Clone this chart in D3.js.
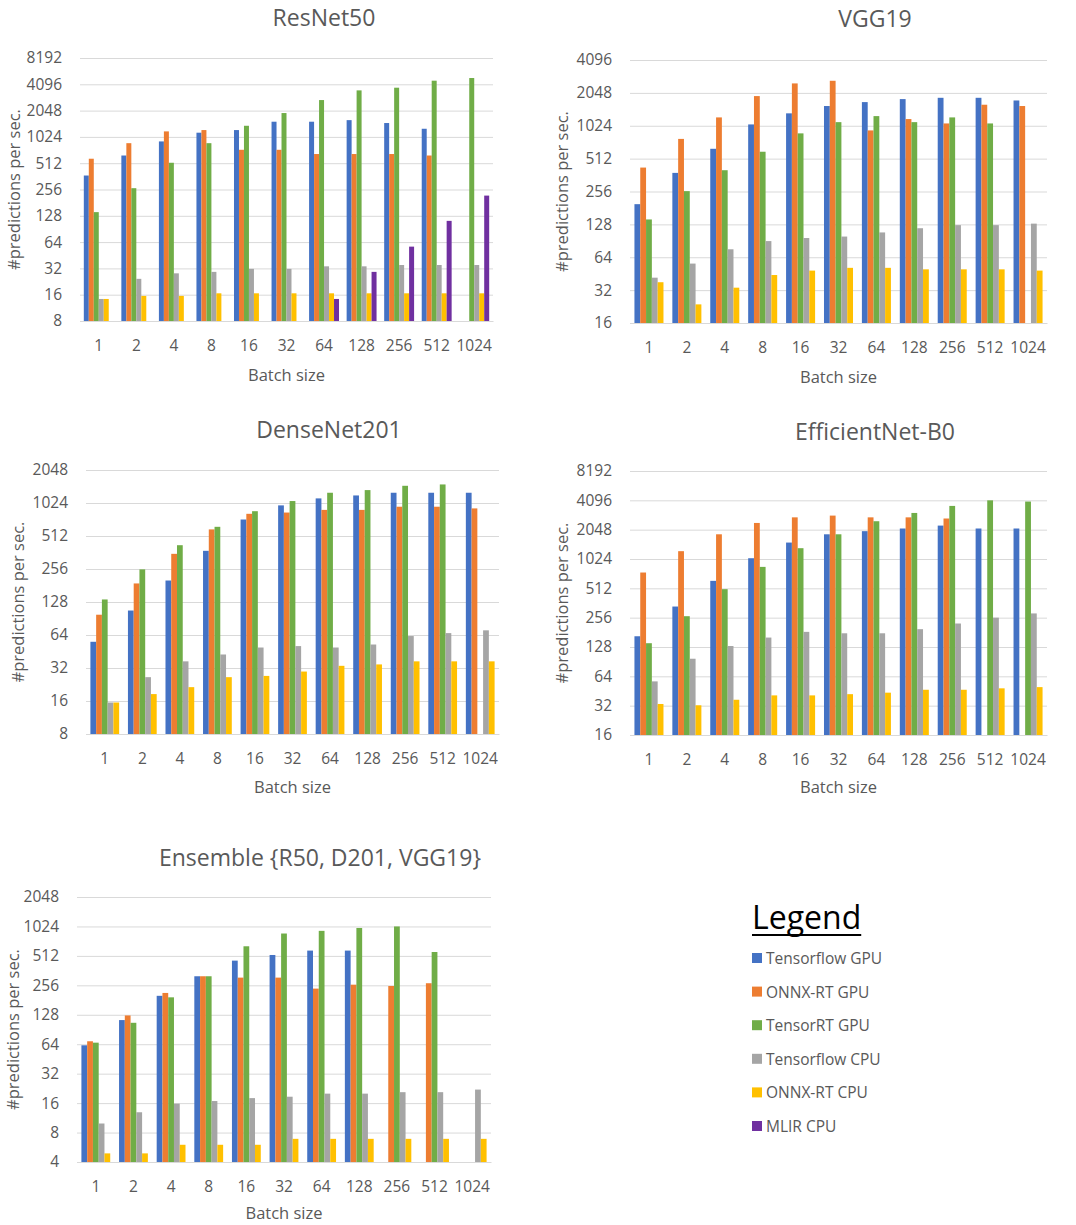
<!DOCTYPE html>
<meta charset='utf-8'>
<style>
	body { margin: 0; background: #fff; }
	text { font-family: 'Open Sans', 'Noto Sans', sans-serif; fill: #595959; }
</style>
<body>
<div id='container'></div>
<script src='https://d3js.org/d3.v7.min.js'></script>
<script>
	// batch sizes on every x axis
	const batchSizes = ['1', '2', '4', '8', '16', '32', '64', '128', '256', '512', '1024'];

	const seriesNames = ['Tensorflow GPU', 'ONNX-RT GPU', 'TensorRT GPU', 'Tensorflow CPU', 'ONNX-RT CPU', 'MLIR CPU'];
	const seriesColors = ['#4472C4', '#ED7D31', '#70AD47', '#A5A5A5', '#FFC000', '#7030A0'];

	// predictions per second, one row per series (null = not measured)
	const resnet50 = [
		[370, 627, 909, 1144, 1226, 1528, 1528, 1593, 1476, 1269, null],
		[576, 868, 1184, 1226, 729, 729, 652, 652, 652, 627, null],
		[141, 265, 518, 868, 1373, 1920, 2704, 3490, 3745, 4505, 4833],
		[14.3, 24.3, 28.1, 29.2, 31.6, 31.6, 33.8, 33.8, 35, 35, 35],
		[14.3, 15.5, 15.5, 16.6, 16.6, 16.6, 16.6, 16.6, 16.6, 16.6, 16.6],
		[null, null, null, null, null, null, 14.3, 29.2, 56.8, 112, 218],
	];
	const vgg19 = [
		[196, 379, 630, 1053, 1330, 1552, 1686, 1796, 1846, 1846, 1745],
		[424, 776, 1221, 1914, 2500, 2643, 928, 1179, 1075, 1595, 1552],
		[142, 258, 401, 592, 872, 1105, 1255, 1105, 1221, 1075, null],
		[41.6, 56, 75.7, 90, 96, 99, 108, 118, 126, 126, 130],
		[37.8, 23.7, 33.7, 44, 48.3, 51.2, 51.2, 49.6, 49.6, 49.6, 48.3],
	];
	const densenet201 = [
		[55.5, 107, 201, 375, 724, 974, 1128, 1200, 1270, 1270, 1270],
		[98, 189, 352, 588, 816, 838, 886, 886, 947, 947, 914],
		[135, 254, 422, 621, 862, 1067, 1270, 1343, 1470, 1512, null],
		[15.5, 26.4, 36.8, 42.5, 49.2, 50.7, 49.2, 52.4, 62.6, 66.6, 70.6],
		[15.5, 18.5, 21.4, 26.4, 27.1, 29.7, 33.5, 34.5, 36.8, 36.8, 36.8],
	];
	const efficientnetB0 = [
		[165, 333, 611, 1043, 1510, 1836, 1977, 2105, 2255, 2105, 2105],
		[744, 1232, 1836, 2400, 2740, 2856, 2740, 2740, 2666, null, null],
		[140, 265, 502, 850, 1322, 1836, 2500, 3040, 3590, 4096, 3980],
		[56.8, 97, 131, 160, 183, 177, 177, 195, 223, 256, 283],
		[33.3, 32.3, 36.8, 40.8, 40.8, 42, 43.5, 46.6, 46.6, 48.2, 49.6],
	];
	const ensemble = [
		[62.4, 113, 200, 317, 458, 523, 580, 580, null, null, null],
		[68.6, 126, 214, 317, 307, 307, 237, 260, 252, 269, null],
		[66.4, 106, 193, 317, 642, 867, 923, 988, 1024, 561, null],
		[9.9, 12.9, 15.8, 16.8, 18, 18.6, 20, 20, 20.7, 20.7, 22],
		[4.9, 4.9, 6.0, 6.0, 6.0, 6.9, 6.9, 6.9, 6.9, 6.9, 6.9],
	];

	// y tick labels
	const ticksResnet = [8, 16, 32, 64, 128, 256, 512, 1024, 2048, 4096, 8192];
	const ticksVgg = [16, 32, 64, 128, 256, 512, 1024, 2048, 4096];
	const ticksDensenet = [8, 16, 32, 64, 128, 256, 512, 1024, 2048];
	const ticksEfficientnet = [16, 32, 64, 128, 256, 512, 1024, 2048, 4096, 8192];
	const ticksEnsemble = [4, 8, 16, 32, 64, 128, 256, 512, 1024, 2048];

	const svg = d3.select('#container')
		.append('svg')
		.attr('width', 1076)
		.attr('height', 1225);

	const drawChart = ( cfg ) => {
		const width = cfg.x1 - cfg.x0,
			height = cfg.y1 - cfg.y0;

		const g = svg.append('g')
			.attr('transform', `translate( ${cfg.x0}, ${cfg.y0} )`);

		const n = cfg.values.length,
			gap = 1.53 / ( n + 1.53 );

		const x0 = d3.scaleBand()
			.domain(batchSizes)
			.range([0, width])
			.paddingInner(gap)
			.paddingOuter(gap / 2);

		const x1 = d3.scaleBand()
			.domain(d3.range(n))
			.range([0, x0.bandwidth()]);

		const y = d3.scaleLog()
			.base(2)
			.domain(d3.extent(cfg.ticks))
			.range([height, 0]);

		// gridlines
		g.append('g')
			.call(d3.axisLeft(y).tickValues(cfg.ticks).tickSize(-width).tickFormat(''))
			.call(a => a.select('.domain').remove())
			.call(a => a.selectAll('line').attr('stroke', '#D9D9D9'));

		// y labels
		g.append('g')
			.call(d3.axisLeft(y).tickValues(cfg.ticks).tickSize(0).tickPadding(18).tickFormat(d3.format('d')))
			.call(a => a.select('.domain').remove())
			.call(a => a.selectAll('text').attr('fill', '#595959').style('font-size', '15.5px').attr('font-family', null));

		// bars
		const groups = g.append('g')
			.selectAll('g')
			.data(cfg.values)
			.join('g')
				.attr('fill', (d, i) => seriesColors[i]);

		groups.each(function( row, si ) {
			d3.select(this).selectAll('rect')
				.data(row.map(( v, ci ) => ({ v, c: batchSizes[ci] })).filter(d => d.v != null))
				.join('rect')
					.attr('x', d => x0(d.c) + x1(si))
					.attr('width', x1.bandwidth())
					.attr('y', d => y(d.v))
					.attr('height', d => height - y(d.v));
		});

		// x axis
		g.append('g')
			.attr('transform', `translate( 0, ${height} )`)
			.call(d3.axisBottom(x0).tickSize(0).tickPadding(19))
			.call(a => a.select('.domain').attr('stroke', '#D9D9D9'))
			.call(a => a.selectAll('text').attr('fill', '#595959').style('font-size', '15.5px').attr('font-family', null));

		svg.append('text')
			.attr('x', cfg.titleX)
			.attr('y', cfg.titleY)
			.attr('text-anchor', 'middle')
			.attr('dominant-baseline', 'central')
			.style('font-size', '23px')
			.text(cfg.title);

		svg.append('text')
			.attr('x', cfg.x0 + width / 2)
			.attr('y', cfg.batchY)
			.attr('text-anchor', 'middle')
			.attr('dominant-baseline', 'central')
			.style('font-size', '16.5px')
			.text('Batch size');

		svg.append('text')
			.attr('transform', `translate( ${cfg.labelX}, ${cfg.y0 + height / 2} ) rotate( -90 )`)
			.attr('text-anchor', 'middle')
			.attr('dominant-baseline', 'central')
			.style('font-size', '16.5px')
			.text('#predictions per sec.');
	};

	drawChart({ title: 'ResNet50', values: resnet50, ticks: ticksResnet,
		x0: 80, x1: 493, y0: 58, y1: 321, titleX: 324, titleY: 17, labelX: 13, batchY: 374 });
	drawChart({ title: 'VGG19', values: vgg19, ticks: ticksVgg,
		x0: 630, x1: 1047, y0: 60, y1: 323, titleX: 875, titleY: 18, labelX: 561, batchY: 376 });
	drawChart({ title: 'DenseNet201', values: densenet201, ticks: ticksDensenet,
		x0: 86, x1: 499, y0: 470, y1: 734, titleX: 329, titleY: 429, labelX: 17, batchY: 786 });
	drawChart({ title: 'EfficientNet-B0', values: efficientnetB0, ticks: ticksEfficientnet,
		x0: 630, x1: 1047, y0: 471, y1: 735, titleX: 875, titleY: 431, labelX: 561, batchY: 786 });
	drawChart({ title: 'Ensemble {R50, D201, VGG19}', values: ensemble, ticks: ticksEnsemble,
		x0: 77, x1: 491, y0: 897, y1: 1162, titleX: 320, titleY: 857, labelX: 12, batchY: 1212 });

	// legend
	const legend = svg.append('g')
		.attr('transform', 'translate( 752, 0 )');

	const legendTitle = legend.append('text')
		.attr('x', 0)
		.attr('y', 929)
		.style('font-size', '32px')
		.style('fill', '#000')
		.text('Legend');

	const titleWidth = legendTitle.node().getComputedTextLength();
	legend.append('line')
		.attr('x1', 0)
		.attr('x2', titleWidth)
		.attr('y1', 935)
		.attr('y2', 935)
		.attr('stroke', '#000')
		.attr('stroke-width', 2);

	const rowY = d3.scaleLinear().domain([0, 5]).range([958, 1126]);

	const item = legend.selectAll('.item')
		.data(seriesNames)
		.join('g')
			.attr('class', 'item')
			.attr('transform', (d, i) => `translate( 0, ${rowY(i)} )`);

	item.append('rect')
		.attr('x', 0)
		.attr('y', -5)
		.attr('width', 10)
		.attr('height', 10)
		.attr('fill', (d, i) => seriesColors[i]);

	item.append('text')
		.attr('x', 14)
		.attr('dominant-baseline', 'central')
		.style('font-size', '15.5px')
		.text(d => d);
</script>
</body>
